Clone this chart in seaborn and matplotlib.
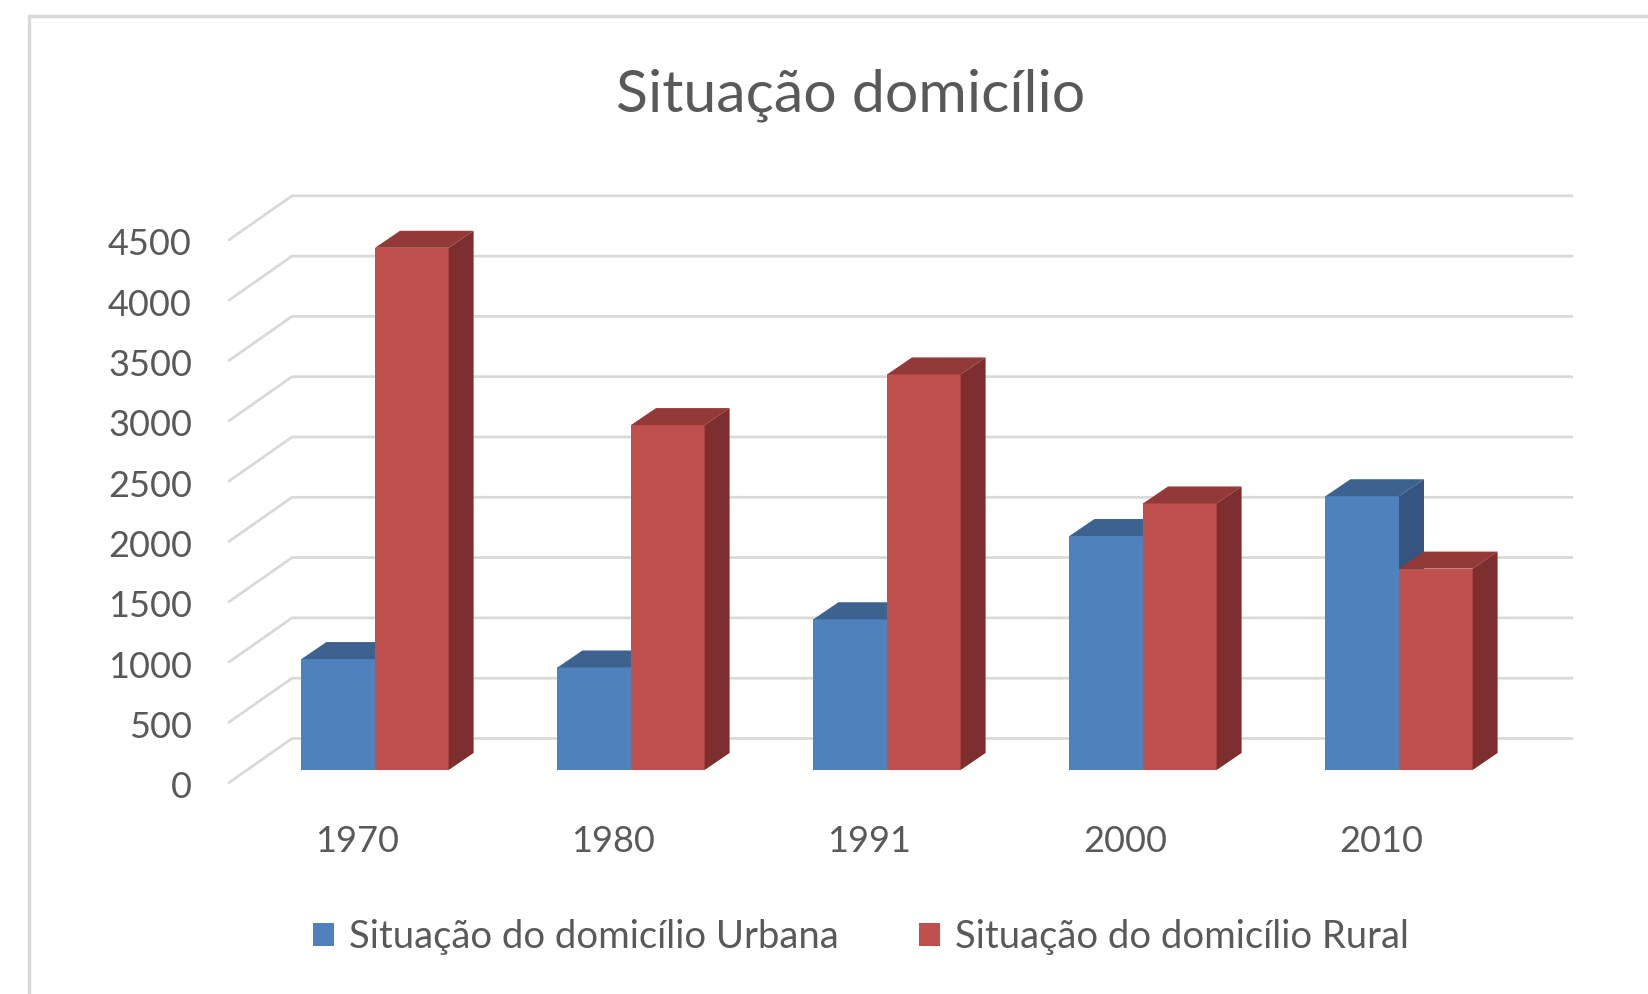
import matplotlib.pyplot as plt
import pandas as pd
import seaborn as sns
from matplotlib.patches import Polygon, Patch, Rectangle

anos = ['1970', '1980', '1991', '2000', '2010']
urbana = [920, 850, 1250, 1940, 2270]
rural = [4330, 2860, 3280, 2210, 1670]
series = ['Situação do domicílio Urbana', 'Situação do domicílio Rural']
yticks = list(range(0, 5000, 500))
titulo = 'Situação domicílio'

cor_frente = ['#4f81bd', '#c0504d']
cor_topo = ['#3d628e', '#933a38']
cor_lado = ['#33557f', '#7c2f2e']
cinza = '#d9d9d9'
texto = '#595959'

sns.set_style('white')
plt.rcParams['font.family'] = ['Lato', 'DejaVu Sans']

df = pd.DataFrame({
    'ano': anos * 2,
    'valor': urbana + rural,
    'situacao': [series[0]] * len(anos) + [series[1]] * len(anos),
})

W, H = 1648, 994
left, right, base = 247, 1527, 770
ppu_y = 542.7 / 4500
fig = plt.figure(figsize=(W / 100, H / 100), dpi=100)
ax = fig.add_axes([left / W, (H - base) / H, (right - left) / W, 4500 * ppu_y / H])

sns.barplot(data=df, x='ano', y='valor', hue='situacao', palette=cor_frente,
            width=0.575, saturation=1, legend=False, errorbar=None,
            linewidth=0, ax=ax)
ax.set_xlim(-0.5, 4.5)
ax.set_ylim(0, 4500)
ax.set_axis_off()

ppu_x = (right - left) / 5


def off(dx, dy):
    # pixel offset -> data units
    return dx / ppu_x, dy / ppu_y


# back wall gridlines + floor diagonals
bx, by = off(45, 31.5)
fx, fy = off(-18, -12.6)
lx, lyt = off(37, 5)
for v in yticks:
    ax.plot([-0.5 + fx, -0.5 + bx, 4.5 + bx], [v + fy, v + by, v + by],
            color=cinza, lw=2, zorder=0, clip_on=False)
    ax.text(-0.5 + fx - lx, v + fy - lyt, str(v), ha='right', va='center',
            fontsize=26, color=texto)

_, ly = off(0, 72)
for i, ano in enumerate(anos):
    ax.text(i + fx, -ly, ano, ha='center', va='center', fontsize=26, color=texto)

# fake 3D: top and side faces
dx, dy = off(25, 17)
for k, cont in enumerate(ax.containers):
    for bar in cont:
        x0, w, h = bar.get_x(), bar.get_width(), bar.get_height()
        bar.set_zorder(2 + k)
        ax.add_patch(Polygon([(x0, h), (x0 + w, h), (x0 + w + dx, h + dy), (x0 + dx, h + dy)],
                             closed=True, fc=cor_topo[k], ec='none', zorder=2 + k, clip_on=False))
        ax.add_patch(Polygon([(x0 + w, 0), (x0 + w, h), (x0 + w + dx, h + dy), (x0 + w + dx, dy)],
                             closed=True, fc=cor_lado[k], ec='none', zorder=2 + k, clip_on=False))

fig.text(851 / W, (H - 95) / H, titulo, ha='center', va='center', fontsize=42.5, color=texto)

handles = [Patch(fc=c, ec='none') for c in cor_frente]
fig.legend(handles=handles, labels=series, loc='center', bbox_to_anchor=(861 / W, (H - 937) / H),
           ncol=2, frameon=False, fontsize=27.5, handlelength=0.55, handleheight=0.55,
           handletextpad=0.4, columnspacing=2.1, labelcolor=texto)

fig.add_artist(Rectangle((29 / W, -0.1), 1.5, (H - 16) / H + 0.1, transform=fig.transFigure,
                         fill=False, ec=cinza, lw=2.5))

fig.savefig('out.png', dpi=100, facecolor='white')
